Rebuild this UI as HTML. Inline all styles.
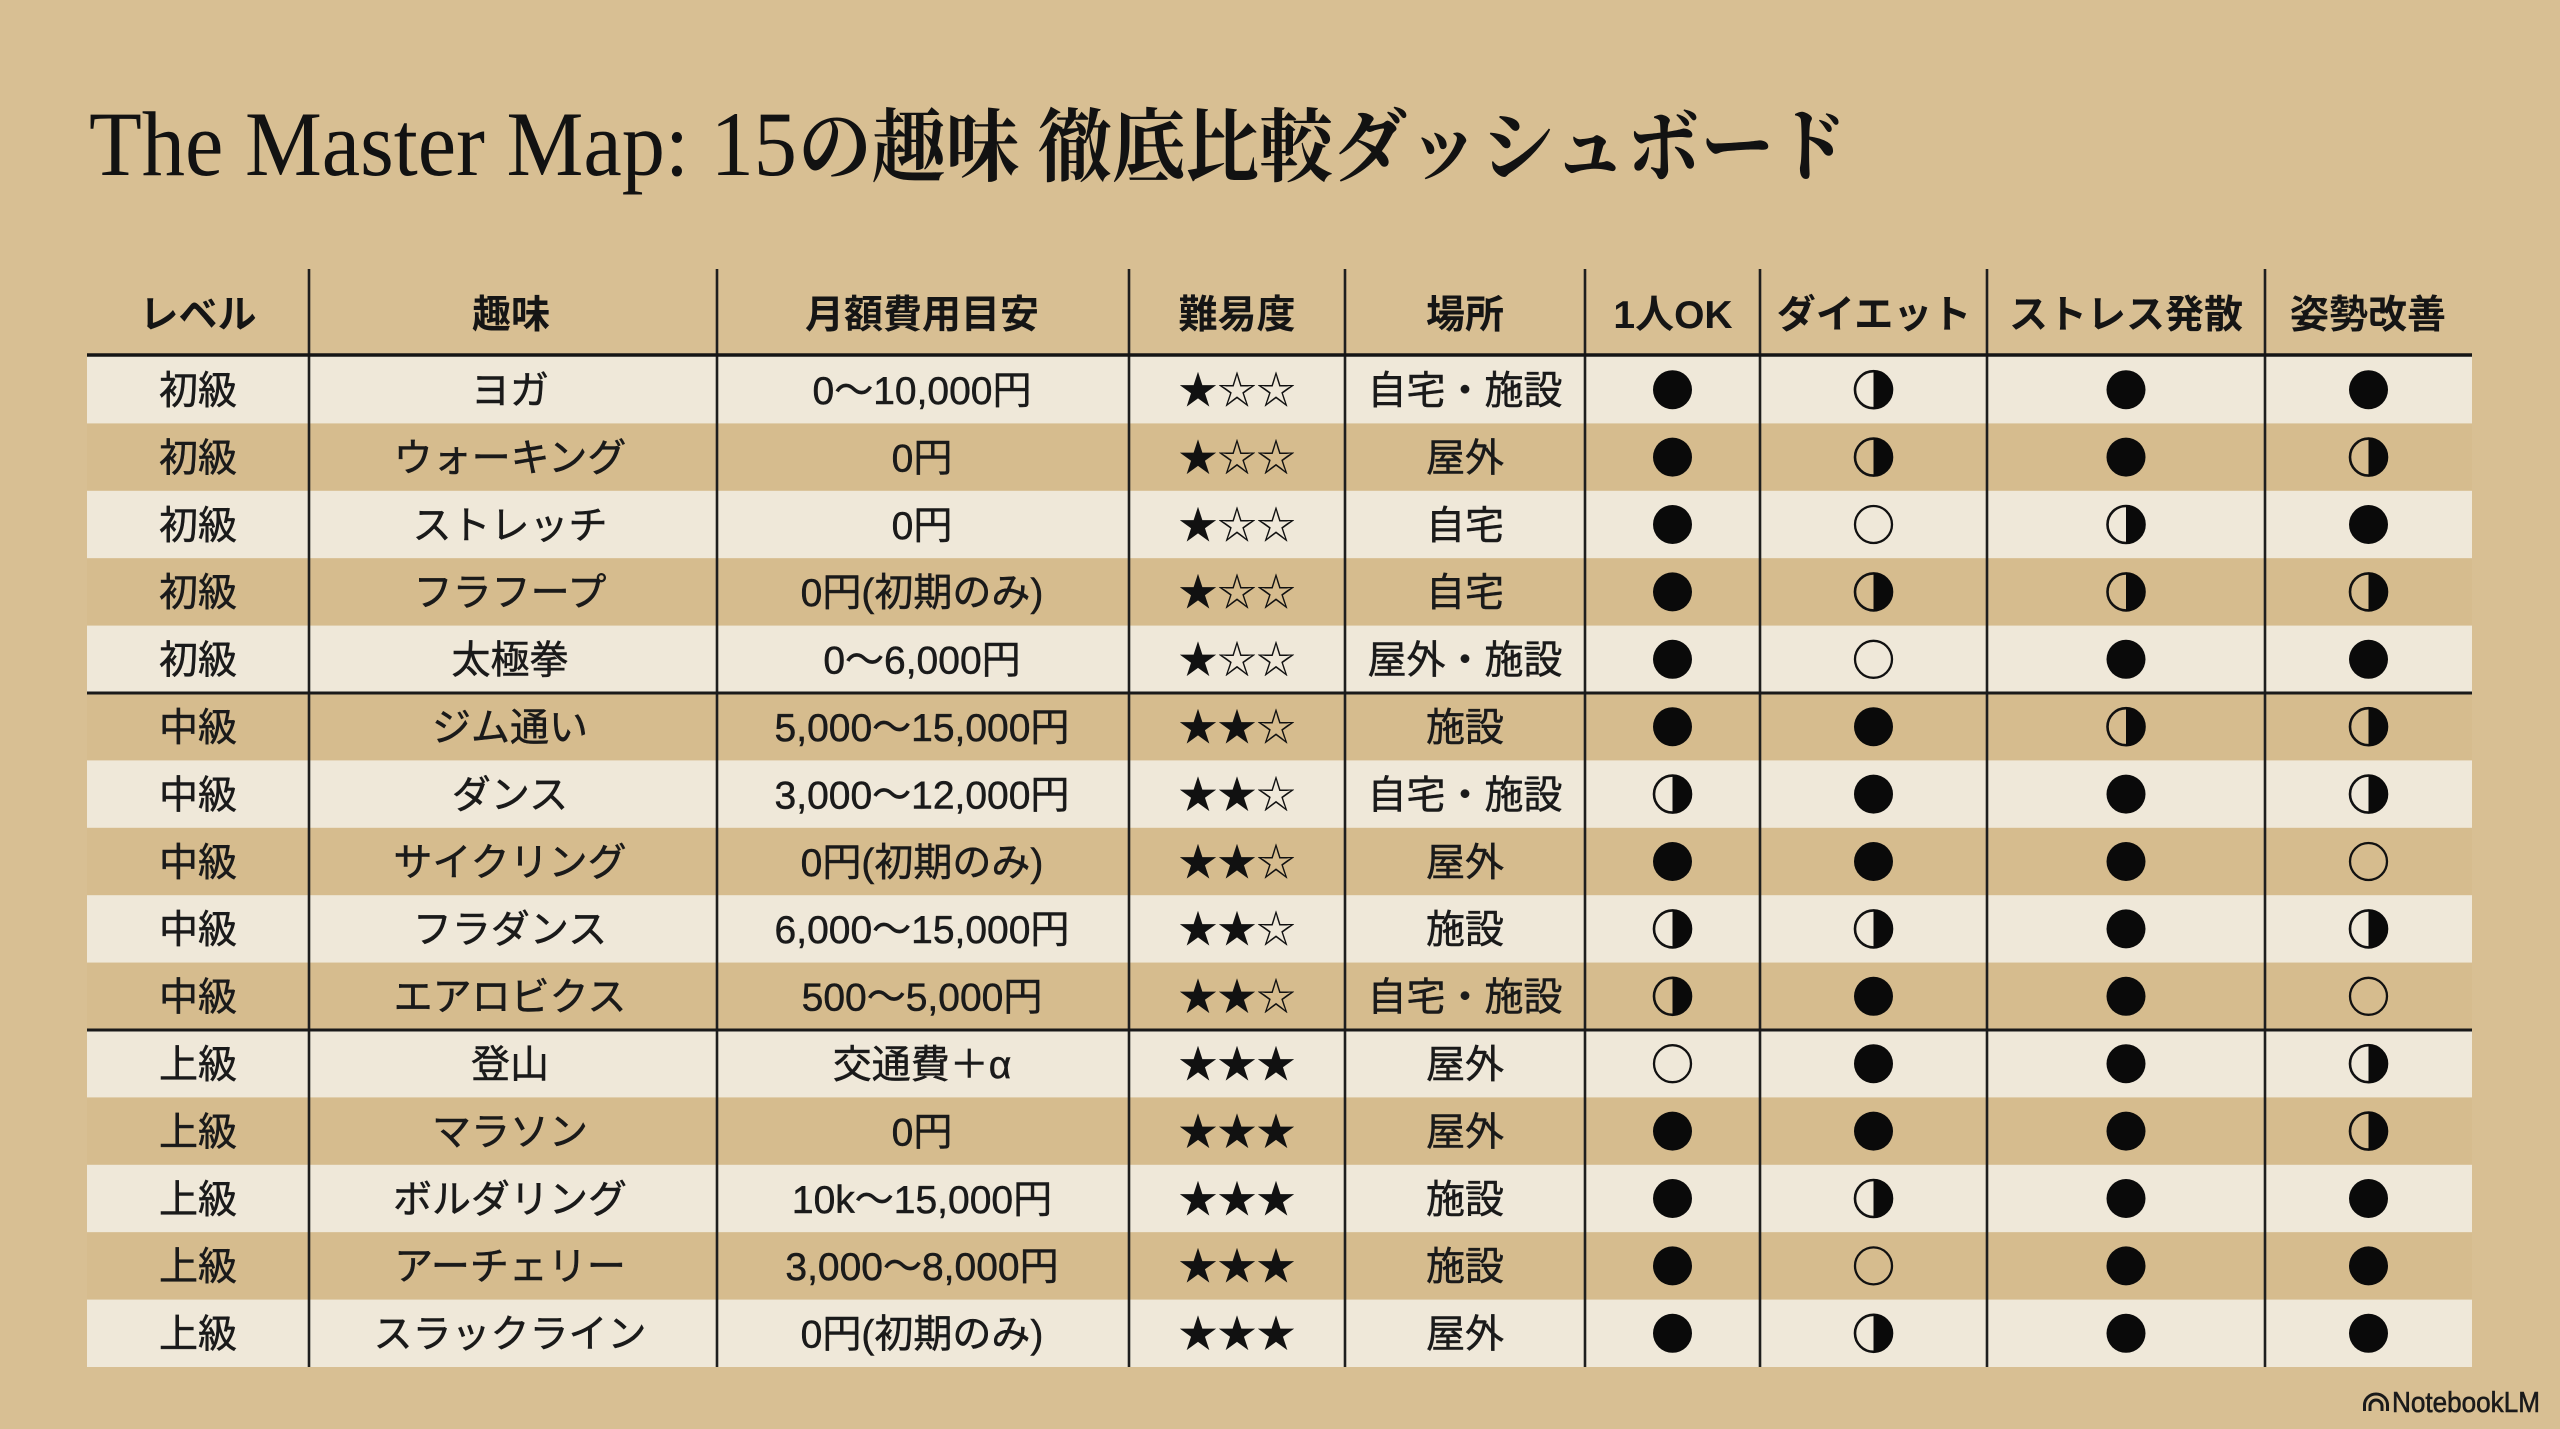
<!DOCTYPE html>
<html lang="ja">
<head>
<meta charset="utf-8">
<title>The Master Map: 15の趣味 徹底比較ダッシュボード</title>
<style>
  html,body{margin:0;padding:0;background:#d8bf93;}
  body{width:2560px;height:1429px;overflow:hidden;}
  svg{display:block;}
  .b{font-family:"Liberation Sans","Noto Sans CJK JP",sans-serif;font-size:39px;fill:#1a1a1a;stroke:#1a1a1a;stroke-width:0.5px;text-anchor:middle;}
  .h{font-family:"Liberation Sans","Noto Sans CJK JP",sans-serif;font-size:39px;font-weight:700;fill:#151515;text-anchor:middle;}
  .s{font-family:"Noto Sans CJK JP",sans-serif;font-size:39px;fill:#111;stroke:none;text-anchor:middle;}
  .b circle,.b path{stroke-width:inherit;}
</style>
</head>
<body>
<svg width="2560" height="1429" viewBox="0 0 2560 1429" xmlns="http://www.w3.org/2000/svg">
  <rect x="0" y="0" width="2560" height="1429" fill="#d8bf93"/>

  <!-- Title -->
  <text x="89" y="175" font-family="Liberation Serif, serif" font-size="92" fill="#121212" textLength="708" lengthAdjust="spacingAndGlyphs">The Master Map: 15</text>
  <text x="798" y="175" font-family="Liberation Serif, Noto Serif CJK SC, serif" font-size="80" font-weight="700" fill="#121212" textLength="1050" lengthAdjust="spacingAndGlyphs">の趣味 徹底比較ダッシュボード</text>

  <!-- Header -->
  <g class="h">
    <text x="198" y="328">レベル</text>
    <text x="511" y="328">趣味</text>
    <text x="922" y="328">月額費用目安</text>
    <text x="1237" y="328">難易度</text>
    <text x="1465" y="328">場所</text>
    <text x="1673" y="328">1人OK</text>
    <text x="1874" y="328">ダイエット</text>
    <text x="2126" y="328">ストレス発散</text>
    <text x="2368" y="328">姿勢改善</text>
  </g>

  <!-- Row backgrounds -->
  <g>
    <rect x="87" y="356" width="2385" height="67.6" fill="#efe8d9"/>
    <rect x="87" y="423.4" width="2385" height="67.6" fill="#d6bc8e"/>
    <rect x="87" y="490.8" width="2385" height="67.6" fill="#efe8d9"/>
    <rect x="87" y="558.2" width="2385" height="67.6" fill="#d6bc8e"/>
    <rect x="87" y="625.6" width="2385" height="67.6" fill="#efe8d9"/>
    <rect x="87" y="693" width="2385" height="67.6" fill="#d6bc8e"/>
    <rect x="87" y="760.4" width="2385" height="67.6" fill="#efe8d9"/>
    <rect x="87" y="827.8" width="2385" height="67.6" fill="#d6bc8e"/>
    <rect x="87" y="895.2" width="2385" height="67.6" fill="#efe8d9"/>
    <rect x="87" y="962.6" width="2385" height="67.6" fill="#d6bc8e"/>
    <rect x="87" y="1030" width="2385" height="67.6" fill="#efe8d9"/>
    <rect x="87" y="1097.4" width="2385" height="67.6" fill="#d6bc8e"/>
    <rect x="87" y="1164.8" width="2385" height="67.6" fill="#efe8d9"/>
    <rect x="87" y="1232.2" width="2385" height="67.6" fill="#d6bc8e"/>
    <rect x="87" y="1299.6" width="2385" height="67.4" fill="#efe8d9"/>
  </g>

  <!-- Row text -->
  <g class="b">
    <g transform="translate(0,356)">
      <text x="198" y="48">初級</text><text x="510" y="48">ヨガ</text><text x="922" y="48">0〜10,000円</text>
      <text class="s" x="1237" y="48">★☆☆</text><text x="1465" y="48">自宅・施設</text>
    </g>
    <g transform="translate(0,423.4)">
      <text x="198" y="48">初級</text><text x="510" y="48">ウォーキング</text><text x="922" y="48">0円</text>
      <text class="s" x="1237" y="48">★☆☆</text><text x="1465" y="48">屋外</text>
    </g>
    <g transform="translate(0,490.8)">
      <text x="198" y="48">初級</text><text x="510" y="48">ストレッチ</text><text x="922" y="48">0円</text>
      <text class="s" x="1237" y="48">★☆☆</text><text x="1465" y="48">自宅</text>
    </g>
    <g transform="translate(0,558.2)">
      <text x="198" y="48">初級</text><text x="510" y="48">フラフープ</text><text x="922" y="48">0円(初期のみ)</text>
      <text class="s" x="1237" y="48">★☆☆</text><text x="1465" y="48">自宅</text>
    </g>
    <g transform="translate(0,625.6)">
      <text x="198" y="48">初級</text><text x="510" y="48">太極拳</text><text x="922" y="48">0〜6,000円</text>
      <text class="s" x="1237" y="48">★☆☆</text><text x="1465" y="48">屋外・施設</text>
    </g>
    <g transform="translate(0,693)">
      <text x="198" y="48">中級</text><text x="510" y="48">ジム通い</text><text x="922" y="48">5,000〜15,000円</text>
      <text class="s" x="1237" y="48">★★☆</text><text x="1465" y="48">施設</text>
    </g>
    <g transform="translate(0,760.4)">
      <text x="198" y="48">中級</text><text x="510" y="48">ダンス</text><text x="922" y="48">3,000〜12,000円</text>
      <text class="s" x="1237" y="48">★★☆</text><text x="1465" y="48">自宅・施設</text>
    </g>
    <g transform="translate(0,827.8)">
      <text x="198" y="48">中級</text><text x="510" y="48">サイクリング</text><text x="922" y="48">0円(初期のみ)</text>
      <text class="s" x="1237" y="48">★★☆</text><text x="1465" y="48">屋外</text>
    </g>
    <g transform="translate(0,895.2)">
      <text x="198" y="48">中級</text><text x="510" y="48">フラダンス</text><text x="922" y="48">6,000〜15,000円</text>
      <text class="s" x="1237" y="48">★★☆</text><text x="1465" y="48">施設</text>
    </g>
    <g transform="translate(0,962.6)">
      <text x="198" y="48">中級</text><text x="510" y="48">エアロビクス</text><text x="922" y="48">500〜5,000円</text>
      <text class="s" x="1237" y="48">★★☆</text><text x="1465" y="48">自宅・施設</text>
    </g>
    <g transform="translate(0,1030)">
      <text x="198" y="48">上級</text><text x="510" y="48">登山</text><text x="922" y="48">交通費＋α</text>
      <text class="s" x="1237" y="48">★★★</text><text x="1465" y="48">屋外</text>
    </g>
    <g transform="translate(0,1097.4)">
      <text x="198" y="48">上級</text><text x="510" y="48">マラソン</text><text x="922" y="48">0円</text>
      <text class="s" x="1237" y="48">★★★</text><text x="1465" y="48">屋外</text>
    </g>
    <g transform="translate(0,1164.8)">
      <text x="198" y="48">上級</text><text x="510" y="48">ボルダリング</text><text x="922" y="48">10k〜15,000円</text>
      <text class="s" x="1237" y="48">★★★</text><text x="1465" y="48">施設</text>
    </g>
    <g transform="translate(0,1232.2)">
      <text x="198" y="48">上級</text><text x="510" y="48">アーチェリー</text><text x="922" y="48">3,000〜8,000円</text>
      <text class="s" x="1237" y="48">★★★</text><text x="1465" y="48">施設</text>
    </g>
    <g transform="translate(0,1299.6)">
      <text x="198" y="48">上級</text><text x="510" y="48">スラックライン</text><text x="922" y="48">0円(初期のみ)</text>
      <text class="s" x="1237" y="48">★★★</text><text x="1465" y="48">屋外</text>
    </g>
  </g>

  <!-- Symbols -->
  <g>
    <!-- 1 -->
    <g transform="translate(0,356)">
      <circle cx="1672.5" cy="33.7" r="19.5" fill="#0a0a0a"/>
      <circle cx="1873.5" cy="33.7" r="18.5" fill="none" stroke="#111" stroke-width="2.6"/><path d="M1873.5 14.2 A19.5 19.5 0 0 1 1873.5 53.2 Z" fill="#0a0a0a"/>
      <circle cx="2126" cy="33.7" r="19.5" fill="#0a0a0a"/>
      <circle cx="2368.5" cy="33.7" r="19.5" fill="#0a0a0a"/>
    </g>
    <!-- 2 -->
    <g transform="translate(0,423.4)">
      <circle cx="1672.5" cy="33.7" r="19.5" fill="#0a0a0a"/>
      <circle cx="1873.5" cy="33.7" r="18.5" fill="none" stroke="#111" stroke-width="2.6"/><path d="M1873.5 14.2 A19.5 19.5 0 0 1 1873.5 53.2 Z" fill="#0a0a0a"/>
      <circle cx="2126" cy="33.7" r="19.5" fill="#0a0a0a"/>
      <circle cx="2368.5" cy="33.7" r="18.5" fill="none" stroke="#111" stroke-width="2.6"/><path d="M2368.5 14.2 A19.5 19.5 0 0 1 2368.5 53.2 Z" fill="#0a0a0a"/>
    </g>
    <!-- 3 -->
    <g transform="translate(0,490.8)">
      <circle cx="1672.5" cy="33.7" r="19.5" fill="#0a0a0a"/>
      <circle cx="1873.5" cy="33.7" r="18.5" fill="none" stroke="#111" stroke-width="2.3"/>
      <circle cx="2126" cy="33.7" r="18.5" fill="none" stroke="#111" stroke-width="2.6"/><path d="M2126 14.2 A19.5 19.5 0 0 1 2126 53.2 Z" fill="#0a0a0a"/>
      <circle cx="2368.5" cy="33.7" r="19.5" fill="#0a0a0a"/>
    </g>
    <!-- 4 -->
    <g transform="translate(0,558.2)">
      <circle cx="1672.5" cy="33.7" r="19.5" fill="#0a0a0a"/>
      <circle cx="1873.5" cy="33.7" r="18.5" fill="none" stroke="#111" stroke-width="2.6"/><path d="M1873.5 14.2 A19.5 19.5 0 0 1 1873.5 53.2 Z" fill="#0a0a0a"/>
      <circle cx="2126" cy="33.7" r="18.5" fill="none" stroke="#111" stroke-width="2.6"/><path d="M2126 14.2 A19.5 19.5 0 0 1 2126 53.2 Z" fill="#0a0a0a"/>
      <circle cx="2368.5" cy="33.7" r="18.5" fill="none" stroke="#111" stroke-width="2.6"/><path d="M2368.5 14.2 A19.5 19.5 0 0 1 2368.5 53.2 Z" fill="#0a0a0a"/>
    </g>
    <!-- 5 -->
    <g transform="translate(0,625.6)">
      <circle cx="1672.5" cy="33.7" r="19.5" fill="#0a0a0a"/>
      <circle cx="1873.5" cy="33.7" r="18.5" fill="none" stroke="#111" stroke-width="2.3"/>
      <circle cx="2126" cy="33.7" r="19.5" fill="#0a0a0a"/>
      <circle cx="2368.5" cy="33.7" r="19.5" fill="#0a0a0a"/>
    </g>
    <!-- 6 -->
    <g transform="translate(0,693)">
      <circle cx="1672.5" cy="33.7" r="19.5" fill="#0a0a0a"/>
      <circle cx="1873.5" cy="33.7" r="19.5" fill="#0a0a0a"/>
      <circle cx="2126" cy="33.7" r="18.5" fill="none" stroke="#111" stroke-width="2.6"/><path d="M2126 14.2 A19.5 19.5 0 0 1 2126 53.2 Z" fill="#0a0a0a"/>
      <circle cx="2368.5" cy="33.7" r="18.5" fill="none" stroke="#111" stroke-width="2.6"/><path d="M2368.5 14.2 A19.5 19.5 0 0 1 2368.5 53.2 Z" fill="#0a0a0a"/>
    </g>
    <!-- 7 -->
    <g transform="translate(0,760.4)">
      <circle cx="1672.5" cy="33.7" r="18.5" fill="none" stroke="#111" stroke-width="2.6"/><path d="M1672.5 14.2 A19.5 19.5 0 0 1 1672.5 53.2 Z" fill="#0a0a0a"/>
      <circle cx="1873.5" cy="33.7" r="19.5" fill="#0a0a0a"/>
      <circle cx="2126" cy="33.7" r="19.5" fill="#0a0a0a"/>
      <circle cx="2368.5" cy="33.7" r="18.5" fill="none" stroke="#111" stroke-width="2.6"/><path d="M2368.5 14.2 A19.5 19.5 0 0 1 2368.5 53.2 Z" fill="#0a0a0a"/>
    </g>
    <!-- 8 -->
    <g transform="translate(0,827.8)">
      <circle cx="1672.5" cy="33.7" r="19.5" fill="#0a0a0a"/>
      <circle cx="1873.5" cy="33.7" r="19.5" fill="#0a0a0a"/>
      <circle cx="2126" cy="33.7" r="19.5" fill="#0a0a0a"/>
      <circle cx="2368.5" cy="33.7" r="18.5" fill="none" stroke="#111" stroke-width="2.3"/>
    </g>
    <!-- 9 -->
    <g transform="translate(0,895.2)">
      <circle cx="1672.5" cy="33.7" r="18.5" fill="none" stroke="#111" stroke-width="2.6"/><path d="M1672.5 14.2 A19.5 19.5 0 0 1 1672.5 53.2 Z" fill="#0a0a0a"/>
      <circle cx="1873.5" cy="33.7" r="18.5" fill="none" stroke="#111" stroke-width="2.6"/><path d="M1873.5 14.2 A19.5 19.5 0 0 1 1873.5 53.2 Z" fill="#0a0a0a"/>
      <circle cx="2126" cy="33.7" r="19.5" fill="#0a0a0a"/>
      <circle cx="2368.5" cy="33.7" r="18.5" fill="none" stroke="#111" stroke-width="2.6"/><path d="M2368.5 14.2 A19.5 19.5 0 0 1 2368.5 53.2 Z" fill="#0a0a0a"/>
    </g>
    <!-- 10 -->
    <g transform="translate(0,962.6)">
      <circle cx="1672.5" cy="33.7" r="18.5" fill="none" stroke="#111" stroke-width="2.6"/><path d="M1672.5 14.2 A19.5 19.5 0 0 1 1672.5 53.2 Z" fill="#0a0a0a"/>
      <circle cx="1873.5" cy="33.7" r="19.5" fill="#0a0a0a"/>
      <circle cx="2126" cy="33.7" r="19.5" fill="#0a0a0a"/>
      <circle cx="2368.5" cy="33.7" r="18.5" fill="none" stroke="#111" stroke-width="2.3"/>
    </g>
    <!-- 11 -->
    <g transform="translate(0,1030)">
      <circle cx="1672.5" cy="33.7" r="18.5" fill="none" stroke="#111" stroke-width="2.3"/>
      <circle cx="1873.5" cy="33.7" r="19.5" fill="#0a0a0a"/>
      <circle cx="2126" cy="33.7" r="19.5" fill="#0a0a0a"/>
      <circle cx="2368.5" cy="33.7" r="18.5" fill="none" stroke="#111" stroke-width="2.6"/><path d="M2368.5 14.2 A19.5 19.5 0 0 1 2368.5 53.2 Z" fill="#0a0a0a"/>
    </g>
    <!-- 12 -->
    <g transform="translate(0,1097.4)">
      <circle cx="1672.5" cy="33.7" r="19.5" fill="#0a0a0a"/>
      <circle cx="1873.5" cy="33.7" r="19.5" fill="#0a0a0a"/>
      <circle cx="2126" cy="33.7" r="19.5" fill="#0a0a0a"/>
      <circle cx="2368.5" cy="33.7" r="18.5" fill="none" stroke="#111" stroke-width="2.6"/><path d="M2368.5 14.2 A19.5 19.5 0 0 1 2368.5 53.2 Z" fill="#0a0a0a"/>
    </g>
    <!-- 13 -->
    <g transform="translate(0,1164.8)">
      <circle cx="1672.5" cy="33.7" r="19.5" fill="#0a0a0a"/>
      <circle cx="1873.5" cy="33.7" r="18.5" fill="none" stroke="#111" stroke-width="2.6"/><path d="M1873.5 14.2 A19.5 19.5 0 0 1 1873.5 53.2 Z" fill="#0a0a0a"/>
      <circle cx="2126" cy="33.7" r="19.5" fill="#0a0a0a"/>
      <circle cx="2368.5" cy="33.7" r="19.5" fill="#0a0a0a"/>
    </g>
    <!-- 14 -->
    <g transform="translate(0,1232.2)">
      <circle cx="1672.5" cy="33.7" r="19.5" fill="#0a0a0a"/>
      <circle cx="1873.5" cy="33.7" r="18.5" fill="none" stroke="#111" stroke-width="2.3"/>
      <circle cx="2126" cy="33.7" r="19.5" fill="#0a0a0a"/>
      <circle cx="2368.5" cy="33.7" r="19.5" fill="#0a0a0a"/>
    </g>
    <!-- 15 -->
    <g transform="translate(0,1299.6)">
      <circle cx="1672.5" cy="33.7" r="19.5" fill="#0a0a0a"/>
      <circle cx="1873.5" cy="33.7" r="18.5" fill="none" stroke="#111" stroke-width="2.6"/><path d="M1873.5 14.2 A19.5 19.5 0 0 1 1873.5 53.2 Z" fill="#0a0a0a"/>
      <circle cx="2126" cy="33.7" r="19.5" fill="#0a0a0a"/>
      <circle cx="2368.5" cy="33.7" r="19.5" fill="#0a0a0a"/>
    </g>
  </g>

  <!-- Grid lines -->
  <g stroke="#1e1e1e" stroke-width="2.6">
    <line x1="309" y1="269" x2="309" y2="1367"/>
    <line x1="717" y1="269" x2="717" y2="1367"/>
    <line x1="1129" y1="269" x2="1129" y2="1367"/>
    <line x1="1345" y1="269" x2="1345" y2="1367"/>
    <line x1="1585" y1="269" x2="1585" y2="1367"/>
    <line x1="1760" y1="269" x2="1760" y2="1367"/>
    <line x1="1987" y1="269" x2="1987" y2="1367"/>
    <line x1="2265" y1="269" x2="2265" y2="1367"/>
  </g>
  <line x1="87" y1="355" x2="2472" y2="355" stroke="#151515" stroke-width="3.5"/>
  <line x1="87" y1="693" x2="2472" y2="693" stroke="#1a1a1a" stroke-width="3"/>
  <line x1="87" y1="1030" x2="2472" y2="1030" stroke="#1a1a1a" stroke-width="3"/>

  <!-- NotebookLM mark -->
  <g fill="none" stroke="#1a1a1a" stroke-width="3">
    <path d="M2364.5 1411 v-6 a11.5 11 0 0 1 23 0 v6"/>
    <path d="M2370 1411 v-5 a6 6 0 0 1 12 0 v5"/>
  </g>
  <text x="2392" y="1412" font-family="Liberation Sans, sans-serif" font-size="29" fill="#1a1a1a" stroke="#1a1a1a" stroke-width="0.6" textLength="148" lengthAdjust="spacingAndGlyphs">NotebookLM</text>
</svg>
</body>
</html>
